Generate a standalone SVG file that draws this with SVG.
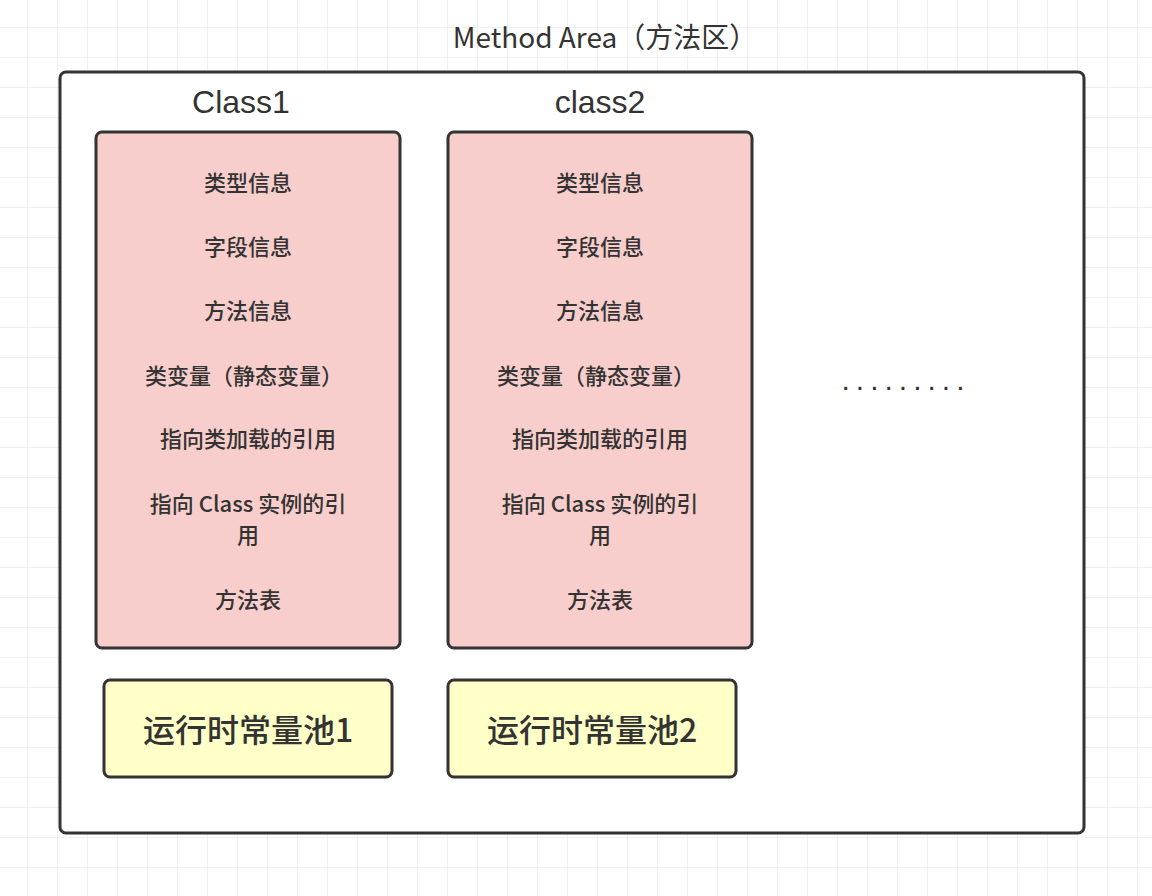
<svg xmlns="http://www.w3.org/2000/svg" width="1152" height="896" viewBox="0 0 1152 896">
<defs>
<pattern id="grid" x="-2" y="-2" width="30" height="30" patternUnits="userSpaceOnUse">
<path d="M30 0V30M0 30H30" fill="none" stroke="#ececec" stroke-width="1.5"/>
</pattern>
<style>
.box{stroke:#333;stroke-width:3}
.cls{fill:#f8cecc}
.pool{fill:#ffffc8}
.t{font-family:"Noto Sans CJK SC","Liberation Sans",sans-serif;fill:#333;text-anchor:middle}
.item{font-size:22px;font-weight:500}
.title{font-family:"Liberation Sans","Noto Sans CJK SC",sans-serif;font-size:32px}
.pt{font-size:32px;font-weight:500}
</style>
</defs>
<rect width="1152" height="896" fill="#fff"/>
<rect width="1152" height="896" fill="url(#grid)"/>
<text class="t" x="605" y="48" font-size="28">Method Area（方法区）</text>
<g id="method-area"><rect class="box" x="60" y="72" width="1024" height="761" rx="6" fill="#fff"/></g>
<g id="class1">
<text class="t title" x="241" y="113">Class1</text>
<rect class="box cls" x="96" y="132" width="304" height="516" rx="6"/>
<g class="t item">
<text x="248" y="191">类型信息</text>
<text x="248" y="255">字段信息</text>
<text x="248" y="319">方法信息</text>
<text x="244" y="384">类变量（静态变量）</text>
<text x="248" y="447">指向类加载的引用</text>
<text x="248" y="512">指向 Class 实例的引</text>
<text x="248" y="543">用</text>
<text x="248" y="608">方法表</text>
</g>
</g>
<g id="class2">
<text class="t title" x="600" y="113">class2</text>
<rect class="box cls" x="448" y="132" width="304" height="516" rx="6"/>
<g class="t item">
<text x="600" y="191">类型信息</text>
<text x="600" y="255">字段信息</text>
<text x="600" y="319">方法信息</text>
<text x="596" y="384">类变量（静态变量）</text>
<text x="600" y="447">指向类加载的引用</text>
<text x="600" y="512">指向 Class 实例的引</text>
<text x="600" y="543">用</text>
<text x="600" y="608">方法表</text>
</g>
</g>
<g id="pool1"><rect class="box pool" x="104" y="680" width="288" height="97" rx="6"/><text class="t pt" x="248" y="742">运行时常量池1</text></g>
<g id="pool2"><rect class="box pool" x="448" y="680" width="288" height="97" rx="6"/><text class="t pt" x="592" y="742">运行时常量池2</text></g>
<g id="ellipsis" class="t"><text x="906" y="390" font-size="30" font-family="Liberation Sans" letter-spacing="6">.........</text></g>
<g id="connectors"/>
</svg>
